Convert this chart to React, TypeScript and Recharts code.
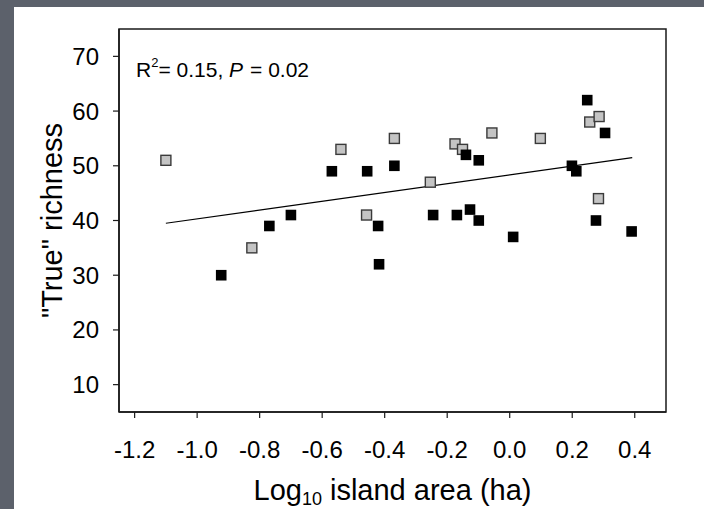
import React from 'react';
import {
  ScatterChart,
  Scatter,
  XAxis,
  YAxis,
  ReferenceLine,
  ReferenceArea,
} from 'recharts';

// grey squares
const greyArea = [-1.1, -0.825, -0.54, -0.458, -0.369, -0.254, -0.175, -0.151, -0.057, 0.098, 0.256, 0.286, 0.284];
const greyRich = [51, 35, 53, 41, 55, 47, 54, 53, 56, 55, 58, 59, 44];

// black squares
const blackArea = [-0.923, -0.769, -0.7, -0.569, -0.456, -0.421, -0.418, -0.369, -0.245, -0.169, -0.14, -0.127, -0.099, -0.099, 0.011, 0.199, 0.213, 0.248, 0.305, 0.276, 0.39];
const blackRich = [30, 39, 41, 49, 49, 39, 32, 50, 41, 41, 52, 42, 51, 40, 37, 50, 49, 62, 56, 40, 38];

// fitted line end points
const fitArea = [-1.1, 0.392];
const fitRich = [39.5, 51.5];

const xTicks = [-1.2, -1.0, -0.8, -0.6, -0.4, -0.2, 0.0, 0.2, 0.4];
const yTicks = [10, 20, 30, 40, 50, 60, 70];

const greyData = greyArea.map((x, i) => ({ x, y: greyRich[i] }));
const blackData = blackArea.map((x, i) => ({ x, y: blackRich[i] }));

const FONT = '"Liberation Sans", Arial, sans-serif';

const GreySquare = (props: any) => {
  const { cx, cy } = props;
  return <rect x={cx - 5} y={cy - 5} width={10} height={10} fill="#c4c4c4" stroke="#3a3a3a" strokeWidth={1.4} />;
};

const BlackSquare = (props: any) => {
  const { cx, cy } = props;
  return <rect x={cx - 5.3} y={cy - 5.3} width={10.6} height={10.6} fill="#000" />;
};

const XTitle = (props: any) => {
  const { viewBox } = props;
  const cx = viewBox.x + viewBox.width / 2;
  const y = viewBox.y + 88;
  return (
    <text x={cx} y={y} textAnchor="middle" fontSize={29} fill="#000" fontFamily={FONT}>
      Log
      <tspan fontSize={18} dy={5}>10</tspan>
      <tspan dy={-5}> island area (ha)</tspan>
    </text>
  );
};

const YTitle = (props: any) => {
  const { viewBox } = props;
  const cy = viewBox.y + viewBox.height / 2;
  const x = 38;
  return (
    <text
      x={x}
      y={cy}
      transform={`rotate(-90, ${x}, ${cy})`}
      textAnchor="middle"
      dominantBaseline="central"
      fontSize={29}
      fill="#000"
      fontFamily={FONT}
    >
      "True" richness
    </text>
  );
};

const StatsNote = (props: any) => {
  const { viewBox } = props;
  const x = viewBox.x + 17;
  const y = viewBox.y + 48;
  return (
    <text x={x} y={y} fontSize={21} fill="#000" fontFamily={FONT}>
      R
      <tspan fontSize={13} dy={-10}>2</tspan>
      <tspan dy={10}>= 0.15, </tspan>
      <tspan fontStyle="italic">P</tspan>
      <tspan dx={7}>= 0.02</tspan>
    </text>
  );
};

export default function App() {
  return (
    <div style={{ position: 'absolute', left: 0, top: 0, width: 704, height: 509, background: '#5c616b' }}>
      <div style={{ position: 'absolute', left: 14, top: 7, width: 690, height: 502, background: '#fff' }}>
        <ScatterChart
          width={690}
          height={502}
          margin={{ top: 22, right: 38, bottom: 0, left: 0 }}
          style={{ fontFamily: FONT }}
        >
          <XAxis
            type="number"
            dataKey="x"
            domain={[-1.25, 0.5]}
            ticks={xTicks}
            tickFormatter={(v: number) => v.toFixed(1)}
            allowDataOverflow
            height={97}
            tickSize={6}
            tickMargin={23}
            tick={{ fill: '#000', fontSize: 24 }}
            axisLine={{ stroke: '#1a1a1a', strokeWidth: 1.5 }}
            tickLine={{ stroke: '#1a1a1a', strokeWidth: 1.2 }}
            label={{ content: (p: any) => <XTitle {...p} /> }}
          />
          <YAxis
            type="number"
            dataKey="y"
            domain={[5, 75]}
            ticks={yTicks}
            allowDataOverflow
            width={105}
            tickSize={6}
            tickMargin={14}
            tick={{ fill: '#000', fontSize: 24 }}
            axisLine={{ stroke: '#1a1a1a', strokeWidth: 1.5 }}
            tickLine={{ stroke: '#1a1a1a', strokeWidth: 1.2 }}
            label={{ content: (p: any) => <YTitle {...p} /> }}
          />
          <ReferenceArea
            x1={-1.25}
            x2={0.5}
            y1={5}
            y2={75}
            fill="none"
            fillOpacity={0}
            stroke="#1a1a1a"
            strokeWidth={1.5}
            ifOverflow="visible"
            label={{ content: (p: any) => <StatsNote {...p} /> }}
          />
          <ReferenceLine
            segment={[
              { x: fitArea[0], y: fitRich[0] },
              { x: fitArea[1], y: fitRich[1] },
            ]}
            stroke="#000"
            strokeWidth={1.2}
            ifOverflow="visible"
          />
          <Scatter data={greyData} shape={<GreySquare />} isAnimationActive={false} />
          <Scatter data={blackData} shape={<BlackSquare />} isAnimationActive={false} />
        </ScatterChart>
      </div>
    </div>
  );
}
